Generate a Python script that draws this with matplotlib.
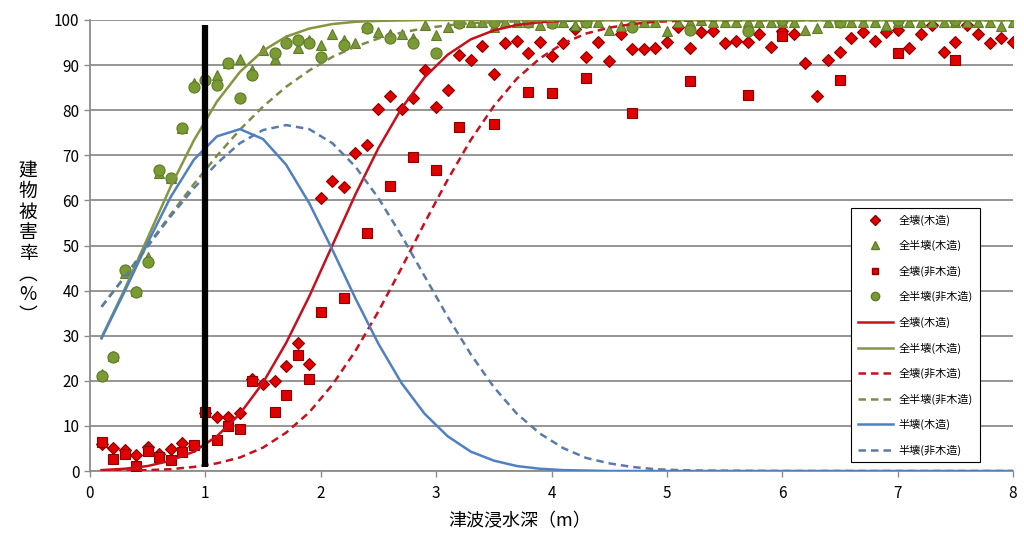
import numpy as np
import matplotlib
matplotlib.use("Agg")
import matplotlib.pyplot as plt
from matplotlib.lines import Line2D

plt.rcParams['font.family'] = ['Noto Sans CJK JP', 'DejaVu Sans']

# ---------------- data ----------------
# wooden buildings: observed rates at each 0.1 m depth bin (0.1 .. 8.0 m)
depth_wood = np.round(np.arange(1, 81) * 0.1, 1)
full_wood = [6.0, 5.1, 4.7, 3.5, 5.3, 3.8, 4.9, 6.2, 5.5, 12.9,
             12.0, 12.0, 12.9, 20.5, 19.3, 20.0, 23.3, 28.4, 23.7, 60.5,
             64.3, 63.0, 70.5, 72.3, 80.3, 83.1, 80.3, 82.7, 88.9, 80.7,
             84.5, 92.2, 91.1, 94.2, 88.0, 94.9, 95.3, 92.7, 95.1, 92.0,
             94.9, 98.0, 91.8, 95.1, 90.9, 96.9, 93.6, 93.6, 93.8, 95.1,
             98.5, 93.8, 97.3, 97.6, 94.9, 95.3, 95.1, 96.9, 94.0, 97.5,
             96.9, 90.5, 83.1, 91.1, 92.9, 96.0, 97.3, 95.3, 97.3, 97.8,
             93.8, 96.9, 99.0, 92.9, 95.1, 99.0, 96.9, 94.9, 96.0, 95.1]
fullhalf_wood = [21.5, 25.5, 44.0, 40.0, 47.5, 66.0, 65.0, 76.0, 86.0, 87.5,
                 87.8, 90.5, 91.3, 89.0, 93.3, 91.3, 95.5, 93.8, 95.5, 94.5,
                 97.0, 95.5, 95.0, 98.5, 97.3, 97.0, 97.0, 96.0, 98.9, 96.7,
                 98.4, 99.5, 99.6, 99.5, 98.5, 99.6, 99.5, 99.6, 99.0, 99.6,
                 99.5, 99.0, 99.6, 99.5, 97.8, 98.7, 99.5, 99.6, 99.5, 97.6,
                 99.5, 99.6, 100.0, 99.5, 99.6, 99.5, 99.6, 99.5, 99.6, 99.5,
                 99.6, 97.8, 98.2, 99.5, 99.6, 99.5, 99.6, 99.5, 99.0, 99.6,
                 99.5, 99.6, 99.5, 99.6, 99.5, 99.6, 99.5, 99.6, 98.6, 99.5]

# non-wooden buildings: observed rates
depth_nonwood = [0.1, 0.2, 0.3, 0.4, 0.5, 0.6, 0.7, 0.8, 0.9, 1.0,
                 1.1, 1.2, 1.3, 1.4, 1.6, 1.7, 1.8, 1.9, 2.0, 2.2,
                 2.4, 2.6, 2.8, 3.0, 3.2, 3.5, 3.8, 4.0, 4.3, 4.7,
                 5.2, 5.7, 6.0, 6.5, 7.0, 7.5]
full_nonwood = [6.5, 2.7, 3.8, 1.0, 4.4, 3.2, 2.4, 4.2, 5.8, 13.0,
                6.9, 10.0, 9.3, 20.0, 13.1, 16.9, 25.7, 20.4, 35.3, 38.4,
                52.8, 63.2, 69.6, 66.7, 76.3, 76.9, 84.0, 83.8, 87.1, 79.4,
                86.5, 83.4, 96.5, 86.7, 92.7, 91.1]
fullhalf_nonwood = [21.0, 25.3, 44.6, 39.7, 46.4, 66.7, 65.0, 76.0, 85.2, 86.7,
                    85.6, 90.5, 82.7, 87.8, 92.6, 95.0, 95.5, 94.9, 91.8, 94.5,
                    98.2, 96.0, 95.0, 92.7, 99.3, 99.5, 99.5, 99.3, 99.5, 98.5,
                    97.8, 97.6, 100.0, 99.5, 100.0, 100.0]

# fragility curves
curve_depth = [0.1, 0.3, 0.5, 0.7, 0.9, 1.1, 1.3, 1.5, 1.7, 1.9,
               2.1, 2.3, 2.5, 2.7, 2.9, 3.1, 3.3, 3.5, 3.7, 3.9,
               4.1, 4.3, 4.5, 4.7, 4.9, 5.1, 5.3, 6.0, 7.0, 8.0]
curve_full_wood = [0.2, 0.5, 1.1, 2.3, 4.3, 7.7, 12.7, 19.6, 28.4, 38.7,
                   50.0, 61.3, 71.6, 80.4, 87.3, 92.3, 95.7, 97.7, 98.9, 99.5,
                   99.8, 99.9, 100, 100, 100, 100, 100, 100, 100, 100]
curve_fullhalf_wood = [29.6, 40.3, 51.7, 63.1, 73.3, 81.9, 88.5, 93.2, 96.3, 98.1,
                       99.1, 99.6, 99.8, 99.9, 100, 100, 100, 100, 100, 100,
                       100, 100, 100, 100, 100, 100, 100, 100, 100, 100]
curve_full_nonwood = [0.0, 0.1, 0.2, 0.4, 0.9, 1.7, 3.0, 5.2, 8.5, 13.0,
                      19.1, 26.6, 35.4, 45.0, 55.0, 64.6, 73.4, 80.9, 87.0, 91.5,
                      94.8, 97.0, 98.3, 99.1, 99.6, 99.8, 99.9, 100, 100, 100]
curve_fullhalf_nonwood = [36.4, 43.1, 50.0, 56.9, 63.6, 69.9, 75.7, 80.8, 85.2, 88.8,
                          91.8, 94.1, 95.9, 97.2, 98.2, 98.8, 99.3, 99.5, 99.7, 99.8,
                          99.9, 99.9, 100, 100, 100, 100, 100, 100, 100, 100]
curve_half_wood = [29.4, 39.8, 50.6, 60.8, 69.0, 74.2, 75.8, 73.6, 67.9, 59.4,
                   49.1, 38.3, 28.2, 19.5, 12.7, 7.7, 4.3, 2.3, 1.1, 0.5,
                   0.2, 0.1, 0, 0, 0, 0, 0, 0, 0, 0]
curve_half_nonwood = [36.4, 43.0, 49.8, 56.5, 62.7, 68.2, 72.7, 75.6, 76.7, 75.8,
                      72.7, 67.5, 60.5, 52.2, 43.2, 34.2, 25.9, 18.6, 12.7, 8.3,
                      5.1, 2.9, 1.7, 0.9, 0.4, 0.2, 0.1, 0, 0, 0]

marker_depth = 1.0
x_ticks = [0, 1, 2, 3, 4, 5, 6, 7, 8]
y_ticks = [0, 10, 20, 30, 40, 50, 60, 70, 80, 90, 100]

labels = ['全壊(木造)', '全半壊(木造)', '全壊(非木造)', '全半壊(非木造)',
          '全壊(木造)', '全半壊(木造)', '全壊(非木造)', '全半壊(非木造)',
          '半壊(木造)', '半壊(非木造)']

# ---------------- style ----------------
RED_FACE = '#E00000'
RED_EDGE = '#8B0000'
GRN_FACE = '#7A9A34'
GRN_EDGE = '#5F7A28'
RED_LINE = '#C8101C'
GRN_LINE = '#84963F'
GRN_DASH = '#7E8A4C'
BLU_LINE = '#4F80C4'
BLU_DASH = '#5A7BAA'
GRID = '#8C8C8C'

fig = plt.figure(figsize=(10.24, 5.33), dpi=100)
ax = fig.add_axes([90 / 1024, 1 - 471 / 533, 923 / 1024, 451 / 533])

ax.set_xlim(0, 8)
ax.set_ylim(0, 100)
ax.set_xticks(x_ticks)
ax.set_yticks(y_ticks)
ax.yaxis.grid(True, color=GRID, lw=1.3)
ax.set_axisbelow(True)
for s in ['top', 'right']:
    ax.spines[s].set_visible(False)
for s in ['left', 'bottom']:
    ax.spines[s].set_color(GRID)
    ax.spines[s].set_linewidth(1.3)
ax.tick_params(axis='both', colors=GRID, labelcolor='#000000', labelsize=11,
               length=4, width=1)
ax.tick_params(axis='x', pad=6)

# scatter series
ax.plot(depth_wood, full_wood, ls='none', marker='D', ms=6.5, mfc=RED_FACE,
        mec=RED_EDGE, mew=0.8, zorder=3)
ax.plot(depth_wood, fullhalf_wood, ls='none', marker='^', ms=7.8, mfc=GRN_FACE,
        mec=GRN_EDGE, mew=0.8, zorder=3)
ax.plot(depth_nonwood, full_nonwood, ls='none', marker='s', ms=6.5, mfc=RED_FACE,
        mec=RED_EDGE, mew=0.8, zorder=3)
ax.plot(depth_nonwood, fullhalf_nonwood, ls='none', marker='o', ms=8.0, mfc=GRN_FACE,
        mec=GRN_EDGE, mew=0.8, zorder=3)

# curves
ax.plot(curve_depth, curve_full_wood, color=RED_LINE, lw=1.8, zorder=4)
ax.plot(curve_depth, curve_fullhalf_wood, color=GRN_LINE, lw=1.8, zorder=4)
ax.plot(curve_depth, curve_full_nonwood, color=RED_LINE, lw=1.8, ls=(0, (3, 2)), zorder=4)
ax.plot(curve_depth, curve_fullhalf_nonwood, color=GRN_DASH, lw=1.8, ls=(0, (3, 2)), zorder=4)
ax.plot(curve_depth, curve_half_wood, color=BLU_LINE, lw=1.8, zorder=4)
ax.plot(curve_depth, curve_half_nonwood, color=BLU_DASH, lw=1.8, ls=(0, (3, 2)), zorder=4)

# black reference line at 1 m
ax.plot([marker_depth, marker_depth], [0.8, 99], color='black', lw=4.5,
        solid_capstyle='butt', zorder=5)

# legend
handles = [
    Line2D([], [], ls='none', marker='D', ms=5, mfc=RED_FACE, mec=RED_EDGE),
    Line2D([], [], ls='none', marker='^', ms=6, mfc=GRN_FACE, mec=GRN_EDGE),
    Line2D([], [], ls='none', marker='s', ms=5, mfc=RED_FACE, mec=RED_EDGE),
    Line2D([], [], ls='none', marker='o', ms=6, mfc=GRN_FACE, mec=GRN_EDGE),
    Line2D([], [], color=RED_LINE, lw=1.8),
    Line2D([], [], color=GRN_LINE, lw=1.8),
    Line2D([], [], color=RED_LINE, lw=1.8, ls=(0, (3, 2))),
    Line2D([], [], color=GRN_DASH, lw=1.8, ls=(0, (3, 2))),
    Line2D([], [], color=BLU_LINE, lw=1.8),
    Line2D([], [], color=BLU_DASH, lw=1.8, ls=(0, (3, 2))),
]
leg = ax.legend(handles, labels, loc='upper left',
                bbox_to_anchor=((851 - 90) / 923, (471 - 208) / 451),
                borderaxespad=0, fontsize=8, frameon=True, fancybox=False,
                edgecolor='#000000', framealpha=1, handlelength=3.2,
                handletextpad=0.5, labelspacing=1.3, borderpad=0.6)
leg.get_frame().set_linewidth(0.8)
leg.set_zorder(10)

# axis titles
fig.text(28 / 1024, 1 - 243 / 533, '建\n物\n被\n害\n率\n︵\n%\n︶',
         ha='center', va='center', fontsize=13.5, linespacing=0.98)
fig.text(520 / 1024, 1 - 521 / 533, '津波浸水深（m）', ha='center', va='center',
         fontsize=13)

fig.savefig('out.png', dpi=100)
